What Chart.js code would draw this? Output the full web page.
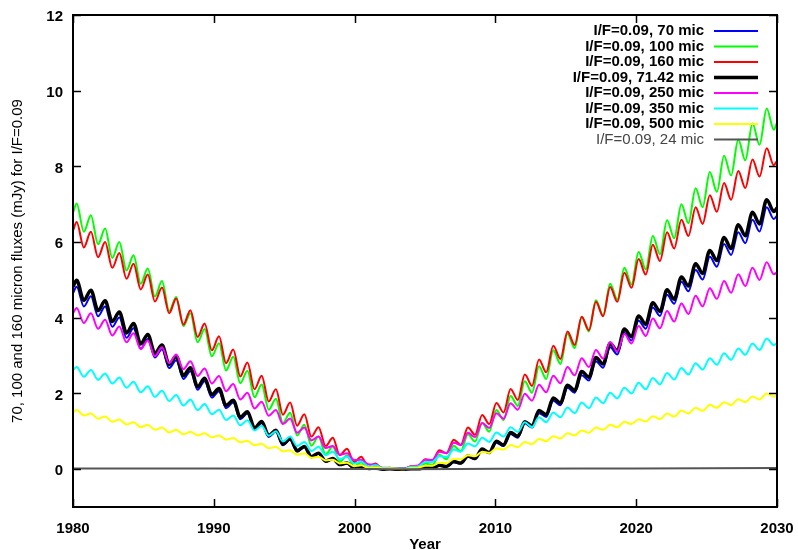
<!DOCTYPE html>
<html>
<head>
<meta charset="utf-8">
<script src="https://cdn.jsdelivr.net/npm/chart.js@4.4.1/dist/chart.umd.min.js"></script>
<style>
html,body{margin:0;padding:0;background:#fff}
canvas{display:block}
</style>
</head>
<body>
<canvas id="chart" width="798" height="550"></canvas>
<script>
// sample times: yearly extrema (peak / trough)
const t = [1980.00,
1980.26,1980.77,1981.27,1981.78,1982.28,1982.79,1983.29,1983.80,1984.30,1984.81,
1985.31,1985.82,1986.32,1986.83,1987.33,1987.84,1988.34,1988.85,1989.35,1989.86,
1990.37,1990.87,1991.38,1991.88,1992.39,1992.89,1993.40,1993.90,1994.41,1994.91,
1995.42,1995.92,1996.43,1996.93,1997.44,1997.94,1998.45,1998.95,1999.46,1999.96,
2000.47,2000.97,2001.48,2001.98,2002.49,2002.99,
2003.50,2004.01,2004.51,2005.02,2005.52,2006.03,2006.53,2007.04,2007.54,2008.05,
2008.55,2009.06,2009.56,2010.07,2010.58,2011.08,2011.59,2012.09,2012.60,2013.10,
2013.61,2014.11,2014.62,2015.12,2015.63,2016.13,2016.64,2017.14,2017.65,2018.15,
2018.66,2019.16,2019.67,2020.17,2020.68,2021.18,2021.69,2022.19,2022.70,2023.21,
2023.71,2024.22,2024.72,2025.23,2025.73,2026.24,2026.74,2027.25,2027.75,2028.26,
2028.76,2029.27,2029.77,
2030.00]

const blue70 = [4.65,
4.82,4.30, 4.57,4.04, 4.30,3.76, 4.01,3.47, 3.72,3.18, 3.44,2.95, 3.17,2.67, 2.88,2.38, 2.59,2.10, 2.32,1.89, 2.06,1.61, 1.76,1.32, 1.47,1.05, 1.22,0.85, 1.00,0.63, 0.78,0.46, 0.58,0.32, 0.41,0.20, 0.27,0.11, 0.15,0.03, 0.07,0.01, 0.03,0.00, 0.01,0.00,
0.00, 0.01,0.01, 0.04,0.03, 0.10,0.07, 0.18,0.15, 0.33,0.26, 0.51,0.42, 0.70,0.61, 0.93,0.83, 1.21,1.10, 1.48,1.38, 1.81,1.69, 2.15,2.02, 2.48,2.34, 2.85,2.68, 3.22,3.03, 3.60,3.40, 3.92,3.71, 4.27,4.05, 4.61,4.37, 4.95,4.70, 5.26,5.01, 5.61,5.35, 5.95,5.66, 6.26,5.97, 6.59,6.28, 6.92,6.61,
6.70]

const green100 = [6.78,
7.02,6.27, 6.71,5.94, 6.36,5.58, 6.00,5.25, 5.65,4.90, 5.30,4.56, 4.97,4.18, 4.55,3.78, 4.12,3.35, 3.70,2.98, 3.33,2.61, 2.97,2.27, 2.60,1.90, 2.24,1.57, 1.86,1.22, 1.49,0.89, 1.17,0.62, 0.86,0.39, 0.60,0.20, 0.36,0.07, 0.18,0.01, 0.07,0.00, 0.02,0.00,
0.00, 0.03,0.01, 0.15,0.11, 0.38,0.26, 0.62,0.47, 0.92,0.73, 1.22,0.99, 1.56,1.30, 1.93,1.67, 2.32,2.02, 2.72,2.38, 3.14,2.78, 3.58,3.20, 4.02,3.64, 4.46,4.06, 4.90,4.48, 5.32,4.88, 5.74,5.28, 6.16,5.68, 6.58,6.10, 7.00,6.50, 7.42,6.92, 7.85,7.33, 8.28,7.76, 8.71,8.16, 9.13,8.57, 9.53,8.97,
9.15]

const red160 = [6.30,
6.53,5.86, 6.27,5.60, 6.00,5.32, 5.71,5.03, 5.43,4.75, 5.14,4.43, 4.80,4.12, 4.51,3.82, 4.20,3.49, 3.85,3.14, 3.51,2.80, 3.16,2.45, 2.82,2.11, 2.47,1.79, 2.11,1.44, 1.76,1.15, 1.45,0.86, 1.11,0.61, 0.83,0.37, 0.54,0.18, 0.33,0.06, 0.15,0.00, 0.04,0.00,
0.00, 0.08,0.06, 0.26,0.24, 0.50,0.42, 0.78,0.64, 1.10,0.91, 1.43,1.19, 1.75,1.50, 2.12,1.83, 2.50,2.20, 2.90,2.56, 3.26,2.91, 3.64,3.28, 4.03,3.67, 4.42,4.04, 4.81,4.42, 5.19,4.79, 5.55,5.14, 5.93,5.50, 6.26,5.83, 6.59,6.16, 6.92,6.48, 7.24,6.80, 7.56,7.12, 7.88,7.43, 8.18,7.73, 8.48,8.03,
8.15]

const black71 = [4.82,
4.99,4.46, 4.73,4.19, 4.45,3.90, 4.15,3.60, 3.85,3.31, 3.56,3.06, 3.28,2.77, 2.98,2.47, 2.68,2.18, 2.40,1.97, 2.13,1.68, 1.82,1.37, 1.52,1.09, 1.26,0.89, 1.03,0.66, 0.81,0.49, 0.60,0.33, 0.42,0.21, 0.28,0.12, 0.16,0.04, 0.08,0.02, 0.03,0.00, 0.01,0.00,
0.00, 0.01,0.01, 0.04,0.03, 0.10,0.07, 0.20,0.16, 0.35,0.28, 0.53,0.44, 0.74,0.64, 0.97,0.87, 1.25,1.14, 1.55,1.44, 1.88,1.75, 2.22,2.08, 2.58,2.43, 2.95,2.78, 3.32,3.13, 3.70,3.50, 4.05,3.83, 4.40,4.17, 4.74,4.49, 5.08,4.84, 5.43,5.17, 5.78,5.51, 6.12,5.83, 6.46,6.17, 6.79,6.48, 7.12,6.81,
6.90]

const mag250 = [4.12,
4.26,3.86, 4.12,3.71, 3.95,3.53, 3.77,3.35, 3.59,3.17, 3.40,2.98, 3.22,2.80, 3.03,2.64, 2.85,2.46, 2.66,2.26, 2.46,2.06, 2.25,1.84, 2.02,1.60, 1.78,1.41, 1.56,1.19, 1.34,0.96, 1.10,0.76, 0.86,0.56, 0.61,0.38, 0.42,0.24, 0.25,0.13, 0.12,0.04, 0.04,0.01,
0.01, 0.08,0.10, 0.25,0.24, 0.46,0.42, 0.70,0.63, 0.96,0.85, 1.22,1.09, 1.48,1.33, 1.74,1.57, 1.99,1.81, 2.23,2.03, 2.47,2.27, 2.70,2.48, 2.93,2.70, 3.15,2.92, 3.36,3.11, 3.57,3.32, 3.78,3.52, 3.98,3.72, 4.18,3.90, 4.38,4.10, 4.58,4.30, 4.78,4.50, 4.97,4.66, 5.15,4.84, 5.32,5.00, 5.47,5.15,
5.20]

const cyan350 = [2.62,
2.70,2.44, 2.62,2.36, 2.53,2.26, 2.42,2.15, 2.31,2.03, 2.19,1.91, 2.07,1.80, 1.96,1.68, 1.84,1.56, 1.72,1.45, 1.57,1.30, 1.42,1.16, 1.29,1.02, 1.15,0.88, 1.00,0.73, 0.86,0.61, 0.72,0.48, 0.59,0.37, 0.46,0.26, 0.33,0.15, 0.20,0.07, 0.10,0.03, 0.03,0.01,
0.01, 0.06,0.07, 0.19,0.19, 0.35,0.32, 0.52,0.46, 0.68,0.60, 0.83,0.72, 0.97,0.86, 1.11,0.98, 1.24,1.11, 1.37,1.24, 1.50,1.37, 1.63,1.48, 1.76,1.61, 1.89,1.74, 2.02,1.87, 2.15,2.00, 2.28,2.11, 2.41,2.24, 2.54,2.37, 2.67,2.50, 2.80,2.63, 2.93,2.76, 3.06,2.89, 3.19,3.02, 3.32,3.15, 3.45,3.28,
3.32]

const yel500 = [1.52,
1.56,1.42, 1.47,1.33, 1.39,1.25, 1.31,1.18, 1.24,1.11, 1.17,1.04, 1.10,0.97, 1.04,0.92, 0.99,0.89, 0.95,0.84, 0.89,0.78, 0.82,0.71, 0.75,0.63, 0.67,0.55, 0.59,0.47, 0.50,0.38, 0.42,0.30, 0.33,0.23, 0.25,0.15, 0.17,0.08, 0.10,0.04, 0.05,0.02, 0.02,0.01,
0.00, 0.03,0.04, 0.09,0.09, 0.17,0.16, 0.27,0.26, 0.37,0.34, 0.46,0.43, 0.55,0.52, 0.64,0.58, 0.72,0.66, 0.80,0.74, 0.87,0.81, 0.95,0.89, 1.02,0.96, 1.10,1.04, 1.17,1.11, 1.25,1.19, 1.32,1.26, 1.40,1.32, 1.47,1.39, 1.55,1.47, 1.62,1.54, 1.70,1.62, 1.77,1.69, 1.85,1.77, 1.92,1.84, 2.00,1.92,
1.95]

// 24 micron stays close to zero the whole time
const t24 = [1980, 1990, 2000, 2003, 2010, 2020, 2030]
const mic24 = [0.02, 0.015, 0.005, 0.0, 0.01, 0.02, 0.03]

const FONT = '"Liberation Sans", Arial, sans-serif'

const pts = (xs, ys) => xs.map((x, i) => ({x: x, y: ys[i]}))

const series = [
  {label: 'I/F=0.09, 70 mic',    data: pts(t, blue70),   color: '#0000ff', w: 2},
  {label: 'I/F=0.09, 100 mic',   data: pts(t, green100), color: '#00ff00', w: 2},
  {label: 'I/F=0.09, 160 mic',   data: pts(t, red160),   color: '#ff0000', w: 2},
  {label: 'I/F=0.09, 71.42 mic', data: pts(t, black71),  color: '#000000', w: 3.5},
  {label: 'I/F=0.09, 250 mic',   data: pts(t, mag250),   color: '#ff00ff', w: 2},
  {label: 'I/F=0.09, 350 mic',   data: pts(t, cyan350),  color: '#00ffff', w: 2},
  {label: 'I/F=0.09, 500 mic',   data: pts(t, yel500),   color: '#ffff00', w: 2},
  {label: 'I/F=0.09, 24 mic',    data: pts(t24, mic24),  color: '#555555', w: 2}
]

// gnuplot style frame, inward ticks, axis titles and key
const gnuFrame = {
  id: 'gnuFrame',
  afterDatasetsDraw(chart) {
    const ctx = chart.ctx
    const a = chart.chartArea
    const xs = chart.scales.x, ys = chart.scales.y
    ctx.save()
    ctx.strokeStyle = '#000'
    ctx.lineWidth = 1.5
    ctx.beginPath()
    xs.ticks.forEach(tk => {
      const px = Math.round(xs.getPixelForValue(tk.value)) + 0.5
      ctx.moveTo(px, a.bottom); ctx.lineTo(px, a.bottom - 8)
      ctx.moveTo(px, a.top); ctx.lineTo(px, a.top + 8)
    })
    ys.ticks.forEach(tk => {
      const py = Math.round(ys.getPixelForValue(tk.value)) + 0.5
      ctx.moveTo(a.left, py); ctx.lineTo(a.left + 8, py)
      ctx.moveTo(a.right, py); ctx.lineTo(a.right - 8, py)
    })
    ctx.stroke()
    ctx.lineWidth = 2
    ctx.strokeRect(a.left, a.top, a.right - a.left, a.bottom - a.top)

    // key
    ctx.textAlign = 'right'
    ctx.textBaseline = 'middle'
    chart.data.datasets.forEach((ds, i) => {
      const y = 31 + i * 15.5
      const last = i === chart.data.datasets.length - 1
      ctx.font = (last ? '' : 'bold ') + '15px ' + FONT
      ctx.fillStyle = last ? '#444' : '#000'
      ctx.fillText(ds.label, 704, y)
      ctx.strokeStyle = ds.borderColor
      ctx.lineWidth = ds.borderWidth
      ctx.beginPath(); ctx.moveTo(714, y); ctx.lineTo(758, y); ctx.stroke()
    })

    // axis titles
    ctx.fillStyle = '#000'
    ctx.textAlign = 'center'
    ctx.font = 'bold 15px ' + FONT
    ctx.fillText('Year', (a.left + a.right) / 2, 545)
    ctx.translate(18, (a.top + a.bottom) / 2)
    ctx.rotate(-Math.PI / 2)
    ctx.font = '15px ' + FONT
    ctx.fillText('70, 100 and 160 micron fluxes (mJy) for I/F=0.09', 0, 0)
    ctx.restore()
  }
}

new Chart(document.getElementById('chart'), {
  type: 'line',
  data: {
    datasets: series.map((s, i) => ({
      label: s.label,
      data: s.data,
      borderColor: s.color,
      borderWidth: s.w,
      pointRadius: 0,
      fill: false,
      cubicInterpolationMode: 'monotone',
      order: -i
    }))
  },
  options: {
    responsive: false,
    animation: false,
    layout: {padding: {left: 0, right: 21, top: 15, bottom: 0}},
    plugins: {legend: {display: false}, tooltip: {enabled: false}},
    scales: {
      x: {
        type: 'linear', min: 1980, max: 2030,
        afterFit: s => { s.height = 43; s.paddingLeft = 0; s.paddingRight = 0 },
        grid: {display: false, drawTicks: false},
        border: {display: false},
        ticks: {stepSize: 10, padding: 13, color: '#000', maxRotation: 0,
          font: {family: FONT, size: 15, weight: 'bold'},
          callback: v => String(v)}
      },
      y: {
        type: 'linear', min: -1, max: 12,
        afterFit: s => { s.width = 73; s.paddingTop = 0; s.paddingBottom = 0 },
        grid: {display: false, drawTicks: false},
        border: {display: false},
        ticks: {stepSize: 2, includeBounds: false, padding: 10, labelOffset: 2, color: '#000',
          font: {family: FONT, size: 15, weight: 'bold'}}
      }
    }
  },
  plugins: [gnuFrame]
})
</script>
</body>
</html>
